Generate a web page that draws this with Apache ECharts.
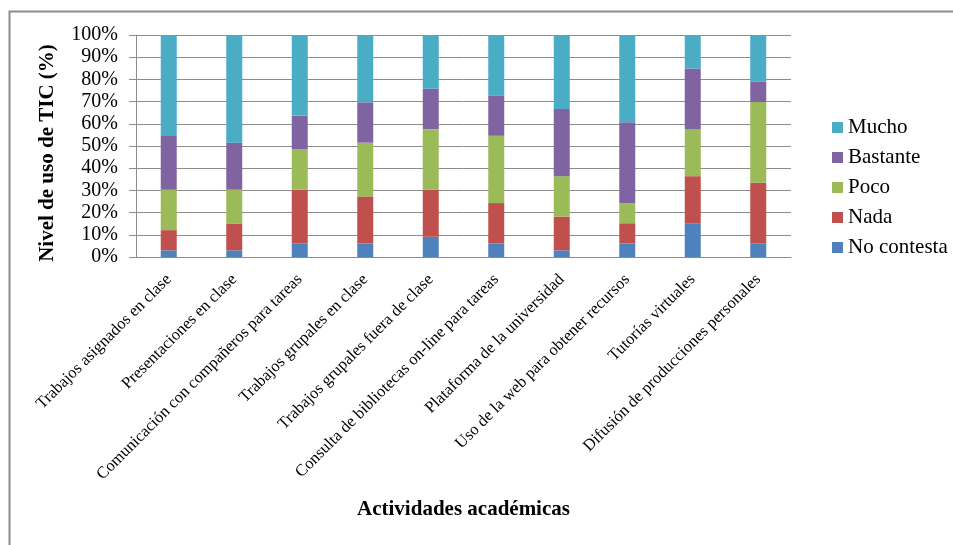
<!DOCTYPE html>
<html><head><meta charset="utf-8">
<script src="https://cdn.jsdelivr.net/npm/echarts@6/dist/echarts.min.js"></script>
<style>html,body{margin:0;padding:0;background:#fff}#c{width:953px;height:545px}</style>
</head><body><div id="c"></div>
<script>
var categories = ["Trabajos asignados en clase","Presentaciones en clase","Comunicación con compañeros para tareas","Trabajos grupales en clase","Trabajos grupales fuera de clase","Consulta de bibliotecas on-line para tareas","Plataforma de la universidad","Uso de la web para obtener recursos","Tutorías virtuales","Difusión de producciones personales"];
var noContesta = [3.0, 3.0, 6.1, 6.1, 9.1, 6.1, 3.0, 6.1, 15.2, 6.1];
var nada       = [9.1, 12.1, 24.2, 21.2, 21.2, 18.2, 15.2, 9.1, 21.2, 27.3];
var poco       = [18.2, 15.2, 18.2, 24.2, 27.3, 30.3, 18.2, 9.1, 21.2, 36.4];
var bastante   = [24.2, 21.2, 15.2, 18.2, 18.2, 18.2, 30.3, 36.4, 27.3, 9.1];
var mucho      = [45.5, 48.5, 36.3, 30.3, 24.2, 27.2, 33.3, 39.3, 15.1, 21.1];
var yTicks = ["0%","10%","20%","30%","40%","50%","60%","70%","80%","90%","100%"];

var font = "'Liberation Serif','Times New Roman',serif";
var chart = echarts.init(document.getElementById('c'), null, {renderer:'canvas'});
function s(name, data, color){
  return {name:name, type:'bar', stack:'t', data:data, barWidth:16,
    itemStyle:{color:color}, emphasis:{disabled:true}};
}
chart.setOption({
  animation:false,
  textStyle:{fontFamily:font},
  grid:{left:136, right:162, top:35, bottom:288, containLabel:false},
  graphic:[{type:'polyline', shape:{points:[[9.5,545],[9.5,11.5],[953,11.5]]},
    style:{stroke:'#8c8c8c', lineWidth:2, fill:null}, silent:true}],
  legend:{orient:'vertical', left:827, top:112, itemWidth:11, itemHeight:11, itemGap:9,
    icon:'rect', data:['Mucho','Bastante','Poco','Nada','No contesta'],
    textStyle:{fontFamily:font, fontSize:21, lineHeight:21, color:'#000'}},
  xAxis:{type:'category', data:categories,
    name:'Actividades académicas', nameLocation:'middle', nameGap:242,
    nameTextStyle:{fontFamily:font, fontSize:21, fontWeight:'bold', color:'#000'},
    axisLine:{lineStyle:{color:'#8c8c8c'}}, axisTick:{show:false},
    axisLabel:{interval:0, rotate:45, fontFamily:font, fontSize:16.5, color:'#000', margin:20}},
  yAxis:{type:'value', min:0, max:100, interval:10,
    name:'Nivel de uso de TIC (%)', nameLocation:'middle', nameGap:78,
    nameTextStyle:{fontFamily:font, fontSize:21, fontWeight:'bold', color:'#000', padding:[0,14,0,0]},
    axisLine:{show:true, lineStyle:{color:'#8c8c8c'}},
    axisTick:{show:true, length:7, lineStyle:{color:'#8c8c8c'}},
    splitLine:{lineStyle:{color:'#8c8c8c'}},
    axisLabel:{fontFamily:font, fontSize:20, color:'#000', margin:18,
      formatter:function(v){return yTicks[Math.round(v/10)];}}},
  series:[
    s('No contesta', noContesta, '#4F81BD'),
    s('Nada', nada, '#C0504D'),
    s('Poco', poco, '#9BBB59'),
    s('Bastante', bastante, '#8064A2'),
    s('Mucho', mucho, '#4BACC6')
  ]
});
</script></body></html>
